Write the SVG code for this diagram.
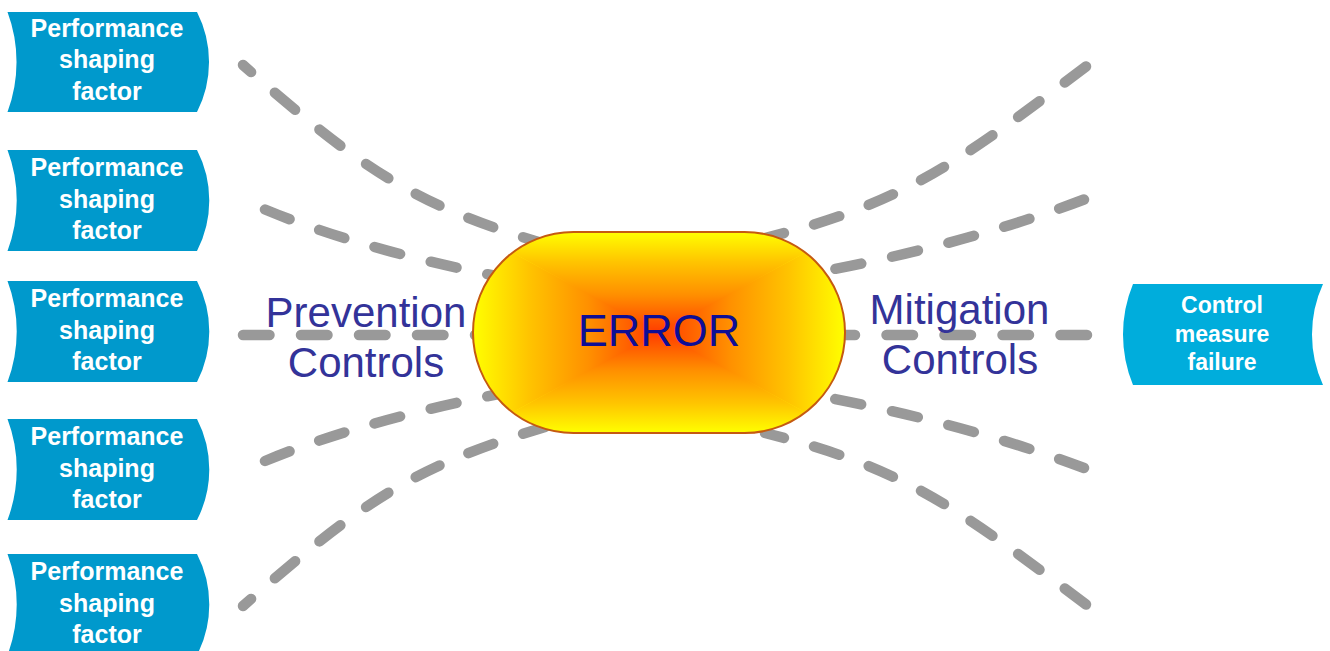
<svg xmlns="http://www.w3.org/2000/svg" width="1330" height="651" viewBox="0 0 1330 651">
<style>
.psf{fill:#0099CC;}
.cmf{fill:#00ADDC;}
.ntxt{font-family:"Liberation Sans",Arial,sans-serif;font-weight:bold;fill:#FFFFFF;text-anchor:middle;}
.lbl{font-family:"Liberation Sans",Arial,sans-serif;font-size:42px;fill:#333399;text-anchor:middle;}
.dash{fill:none;stroke:#999999;stroke-width:10.5;stroke-linecap:round;stroke-dasharray:26.5 31.5;}
</style>
<defs>
<linearGradient id="gTop" gradientUnits="userSpaceOnUse" x1="0" y1="232" x2="0" y2="332.5">
<stop offset="0" stop-color="#FFFF00"/><stop offset="0.3" stop-color="#FFC400"/><stop offset="0.62" stop-color="#FF9000"/><stop offset="1" stop-color="#FF3C00"/>
</linearGradient>
<linearGradient id="gBot" gradientUnits="userSpaceOnUse" x1="0" y1="433" x2="0" y2="332.5">
<stop offset="0" stop-color="#FFFF00"/><stop offset="0.3" stop-color="#FFC400"/><stop offset="0.62" stop-color="#FF9000"/><stop offset="1" stop-color="#FF3C00"/>
</linearGradient>
<linearGradient id="gLeft" gradientUnits="userSpaceOnUse" x1="473" y1="0" x2="659" y2="0">
<stop offset="0" stop-color="#FFFF00"/><stop offset="0.3" stop-color="#FFC400"/><stop offset="0.62" stop-color="#FF9000"/><stop offset="1" stop-color="#FF3C00"/>
</linearGradient>
<linearGradient id="gRight" gradientUnits="userSpaceOnUse" x1="845" y1="0" x2="659" y2="0">
<stop offset="0" stop-color="#FFFF00"/><stop offset="0.3" stop-color="#FFC400"/><stop offset="0.62" stop-color="#FF9000"/><stop offset="1" stop-color="#FF3C00"/>
</linearGradient>
<radialGradient id="gBase" cx="0.5" cy="0.5" r="0.5">
<stop offset="0" stop-color="#FF3C00"/><stop offset="0.6" stop-color="#FF9800"/><stop offset="1" stop-color="#FFF000"/>
</radialGradient>
<clipPath id="clipErr"><rect x="473" y="232" width="372" height="201" rx="100.5" ry="100.5"/></clipPath>
</defs>
<rect width="1330" height="651" fill="#FFFFFF"/>

<g id="connectors">
<path class="dash" stroke-dashoffset="16" d="M243,65 C363,170.6 415,205 545,244"/>
<path class="dash" d="M265,209.5 Q377,256 545,285"/>
<path class="dash" d="M243,335 H480"/>
<path class="dash" d="M265,461 Q377,414.5 545,385.5"/>
<path class="dash" stroke-dashoffset="16" d="M243,606 C363,500.4 415,466 545,427"/>
<path class="dash" d="M1086,66.5 C958,162.5 905,203 765,238"/>
<path class="dash" d="M1084,199.5 Q951,250 780,279"/>
<path class="dash" d="M1087,335 H840"/>
<path class="dash" d="M1084,468 Q951,418 780,389"/>
<path class="dash" d="M1086,604.5 C958,508.5 905,468 765,433"/>
</g>

<g id="node-psf-1">
<path class="psf" d="M7.5,12 H197 A110,110 0 0 1 197,112 H7.5 A143,143 0 0 0 7.5,12 Z"/>
<text class="ntxt" font-size="25" x="107" y="37">Performance</text>
<text class="ntxt" font-size="25" x="107" y="68">shaping</text>
<text class="ntxt" font-size="25" x="107" y="99.5">factor</text>
</g>
<g id="node-psf-2">
<path class="psf" d="M7.5,150 H197 A110,110 0 0 1 197,251 H7.5 A143,143 0 0 0 7.5,150 Z"/>
<text class="ntxt" font-size="25" x="107" y="176">Performance</text>
<text class="ntxt" font-size="25" x="107" y="207.5">shaping</text>
<text class="ntxt" font-size="25" x="107" y="239">factor</text>
</g>
<g id="node-psf-3">
<path class="psf" d="M7.5,281 H197 A110,110 0 0 1 197,382 H7.5 A143,143 0 0 0 7.5,281 Z"/>
<text class="ntxt" font-size="25" x="107" y="307">Performance</text>
<text class="ntxt" font-size="25" x="107" y="338.5">shaping</text>
<text class="ntxt" font-size="25" x="107" y="370">factor</text>
</g>
<g id="node-psf-4">
<path class="psf" d="M7.5,419 H197 A110,110 0 0 1 197,520 H7.5 A143,143 0 0 0 7.5,419 Z"/>
<text class="ntxt" font-size="25" x="107" y="445">Performance</text>
<text class="ntxt" font-size="25" x="107" y="476.5">shaping</text>
<text class="ntxt" font-size="25" x="107" y="508">factor</text>
</g>
<g id="node-psf-5">
<path class="psf" d="M7.5,554 H197 A110,110 0 0 1 197,655 H7.5 A143,143 0 0 0 7.5,554 Z"/>
<text class="ntxt" font-size="25" x="107" y="580">Performance</text>
<text class="ntxt" font-size="25" x="107" y="611.5">shaping</text>
<text class="ntxt" font-size="25" x="107" y="643">factor</text>
</g>

<g id="node-error">
<g clip-path="url(#clipErr)">
<rect x="473" y="232" width="372" height="201" fill="url(#gBase)"/>
<polygon points="471,230 847,230 659,332.5" fill="url(#gTop)"/>
<polygon points="471,435 847,435 659,332.5" fill="url(#gBot)"/>
<polygon points="471,230 471,435 659,332.5" fill="url(#gLeft)"/>
<polygon points="847,230 847,435 659,332.5" fill="url(#gRight)"/>
</g>
<rect x="473" y="232" width="372" height="201" rx="100.5" ry="100.5" fill="none" stroke="#C55A11" stroke-width="2"/>
<text x="659" y="346" font-family="'Liberation Sans',Arial,sans-serif" font-size="45" fill="#0E0E96" text-anchor="middle">ERROR</text>
</g>

<g id="label-prevention">
<text class="lbl" x="366" y="327">Prevention</text>
<text class="lbl" x="366" y="377">Controls</text>
</g>
<g id="label-mitigation">
<text class="lbl" x="959.5" y="323.5">Mitigation</text>
<text class="lbl" x="960" y="373.5">Controls</text>
</g>

<g id="node-cmf">
<path class="cmf" d="M1133,284 H1323 A121.4,121.4 0 0 0 1323,385 H1133 A132.5,132.5 0 0 1 1133,284 Z"/>
<text class="ntxt" font-size="23" x="1222" y="313">Control</text>
<text class="ntxt" font-size="23" x="1222" y="341.5">measure</text>
<text class="ntxt" font-size="23" x="1222" y="370">failure</text>
</g>
</svg>
